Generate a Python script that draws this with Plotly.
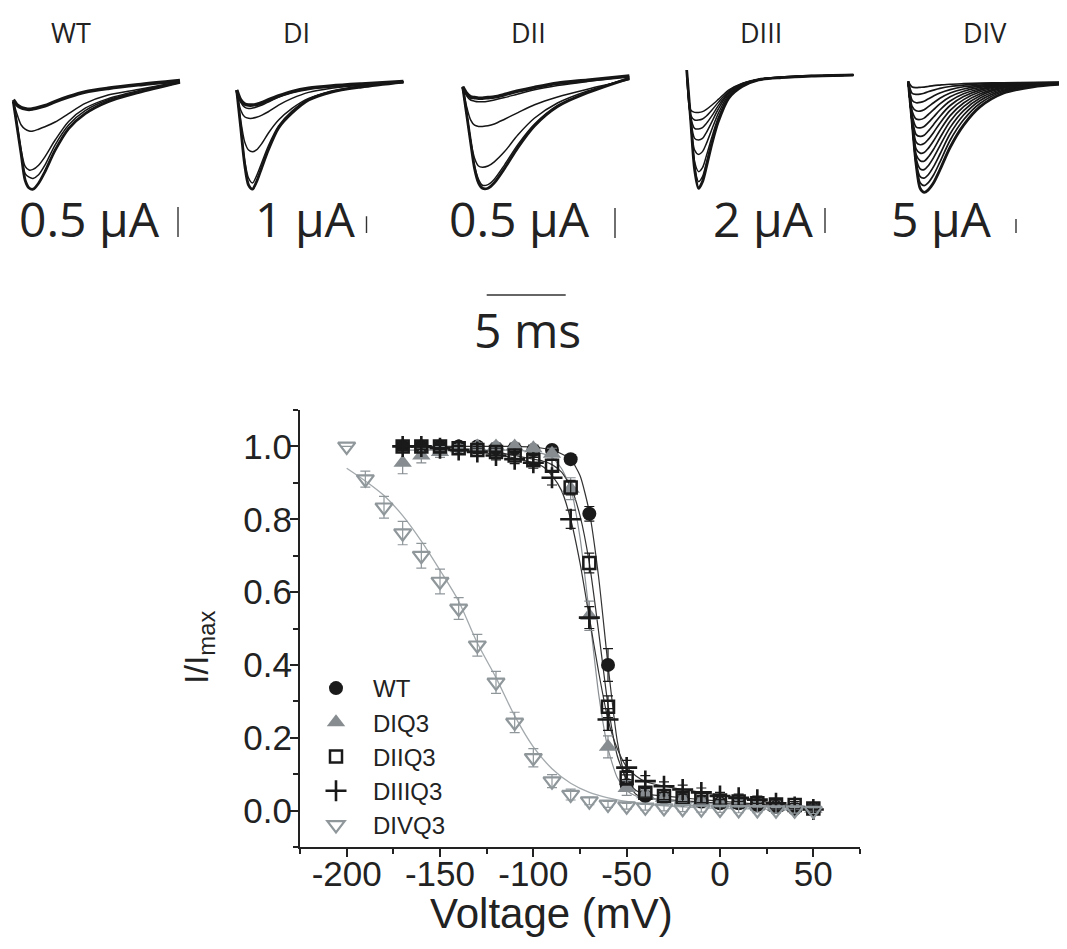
import plotly.graph_objects as go

# page is shown with the browser's 8px body margin; work in window pixels
OFF = 8
W_WIN, H_WIN = 1067, 949
W, H = W_WIN - OFF, H_WIN - OFF

# ---------------- steady-state inactivation (I/Imax vs voltage) ----------------
volt = [-170, -160, -150, -140, -130, -120, -110, -100, -90, -80, -70, -60, -50,
        -40, -30, -20, -10, 0, 10, 20, 30, 40, 50]
volt_divq3 = [-200, -190, -180, -170, -160, -150, -140, -130, -120, -110, -100, -90, -80,
              -70, -60, -50, -40, -30, -20, -10, 0, 10, 20, 30, 40, 50]

wt_i = [1.0, 1.0, 1.0, 1.0, 1.0, 0.995, 0.995, 0.99, 0.99, 0.965, 0.815, 0.40, 0.07,
        0.04, 0.035, 0.03, 0.025, 0.02, 0.02, 0.015, 0.01, 0.005, 0.005]
diq3_i = [0.955, 0.975, 0.985, 0.995, 1.0, 1.0, 1.0, 0.995, 0.98, 0.884, 0.535, 0.175, 0.062,
          0.045, 0.035, 0.03, 0.025, 0.02, 0.02, 0.015, 0.01, 0.01, 0.005]
diiq3_i = [1.0, 1.0, 1.0, 0.995, 0.99, 0.985, 0.975, 0.962, 0.947, 0.887, 0.68, 0.285, 0.09,
           0.049, 0.04, 0.035, 0.032, 0.028, 0.025, 0.02, 0.017, 0.015, 0.006]
diiiq3_i = [1.0, 1.0, 0.995, 0.99, 0.985, 0.975, 0.965, 0.955, 0.914, 0.80, 0.53, 0.25, 0.118,
            0.081, 0.067, 0.058, 0.05, 0.04, 0.035, 0.03, 0.02, 0.01, 0.003]
divq3_i = [1.0, 0.91, 0.833, 0.762, 0.70, 0.629, 0.555, 0.454, 0.352, 0.242, 0.145, 0.081, 0.044,
           0.026, 0.017, 0.012, 0.009, 0.007, 0.005, 0.004, 0.003, 0.002, 0.002, 0.001, 0.001, 0.0]

wt_err = [0.005, 0.005, 0.005, 0.005, 0.005, 0.005, 0.008, 0.008, 0.01, 0.012, 0.02, 0.045, 0.015,
          0.01, 0.008, 0.008, 0.008, 0.008, 0.008, 0.008, 0.008, 0.008, 0.008]
diq3_err = [0.03, 0.02, 0.015, 0.01, 0.01, 0.01, 0.01, 0.01, 0.015, 0.03, 0.04, 0.03, 0.02,
            0.012, 0.01, 0.01, 0.01, 0.01, 0.01, 0.01, 0.01, 0.01, 0.01]
diiq3_err = [0.008, 0.008, 0.008, 0.008, 0.01, 0.01, 0.01, 0.012, 0.015, 0.02, 0.027, 0.03, 0.02,
             0.012, 0.01, 0.01, 0.01, 0.01, 0.01, 0.01, 0.01, 0.01, 0.01]
diiiq3_err = [0.008, 0.008, 0.008, 0.01, 0.01, 0.012, 0.012, 0.015, 0.02, 0.025, 0.03, 0.03, 0.02,
              0.015, 0.012, 0.012, 0.012, 0.01, 0.01, 0.01, 0.01, 0.01, 0.01]
divq3_err = [0.0, 0.022, 0.03, 0.032, 0.034, 0.034, 0.03, 0.03, 0.03, 0.028, 0.025, 0.018, 0.015,
             0.01, 0.008, 0.008, 0.008, 0.008, 0.008, 0.008, 0.008, 0.008, 0.008, 0.008, 0.008, 0.008]

# fitted curves
fit_volt = [-170, -160, -150, -140, -130, -120, -110, -100, -95, -90, -85, -80, -75, -70, -65,
            -60, -55, -50, -45, -40, -30, -20, -10, 0, 10, 20, 30, 40, 50]
wt_fit = [1.0, 1.0, 1.0, 1.0, 1.0, 1.0, 1.0, 0.998, 0.995, 0.99, 0.98, 0.965, 0.92, 0.82, 0.64,
          0.40, 0.19, 0.08, 0.045, 0.035, 0.03, 0.027, 0.024, 0.02, 0.017, 0.014, 0.011, 0.008, 0.005]
diq3_fit = [0.99, 0.99, 0.99, 0.99, 0.99, 0.99, 0.99, 0.985, 0.98, 0.97, 0.94, 0.885, 0.75, 0.54, 0.32,
            0.17, 0.09, 0.055, 0.04, 0.035, 0.028, 0.024, 0.02, 0.017, 0.014, 0.011, 0.009, 0.007, 0.005]
diiq3_fit = [1.0, 1.0, 0.998, 0.995, 0.99, 0.985, 0.975, 0.965, 0.96, 0.95, 0.93, 0.89, 0.81, 0.68, 0.49,
             0.29, 0.15, 0.085, 0.055, 0.045, 0.04, 0.035, 0.03, 0.026, 0.022, 0.018, 0.014, 0.01, 0.006]
diiiq3_fit = [1.0, 0.998, 0.995, 0.99, 0.985, 0.978, 0.968, 0.955, 0.945, 0.92, 0.88, 0.80, 0.68, 0.53, 0.38,
              0.25, 0.17, 0.12, 0.095, 0.08, 0.067, 0.058, 0.05, 0.042, 0.035, 0.028, 0.02, 0.012, 0.005]
divq3_fit = [0.94, 0.905, 0.865, 0.81, 0.74, 0.66, 0.575, 0.46, 0.365, 0.26, 0.175, 0.115, 0.075,
             0.05, 0.035, 0.025, 0.018, 0.013, 0.01, 0.008, 0.006, 0.005, 0.004, 0.003, 0.002, 0.002]

x_tick_vals = [-200, -150, -100, -50, 0, 50]
x_tick_text = ["-200", "-150", "-100", "-50", "0", "50"]
y_tick_vals = [0.0, 0.2, 0.4, 0.6, 0.8, 1.0]
y_tick_text = ["0.0", "0.2", "0.4", "0.6", "0.8", "1.0"]

# ---------------- current traces (time in ms, current in uA) ----------------
t_ms = [0, 0.25, 0.5, 0.75, 1.0, 1.25, 1.6, 2.0, 2.65, 3.5, 4.55, 6.0, 7.9, 10.55]

wt_traces = [
    [-0.36, -0.80, -1.24, -1.67, -1.80, -1.82, -1.72, -1.53, -1.17, -0.81, -0.56, -0.36, -0.21, -0.04],
    [-0.36, -0.78, -1.22, -1.56, -1.62, -1.64, -1.58, -1.42, -1.08, -0.75, -0.51, -0.33, -0.20, -0.04],
    [-0.36, -0.75, -1.17, -1.44, -1.50, -1.49, -1.42, -1.28, -1.00, -0.69, -0.47, -0.31, -0.18, -0.03],
    [-0.36, -0.58, -0.75, -0.82, -0.85, -0.85, -0.82, -0.78, -0.70, -0.56, -0.39, -0.25, -0.16, -0.03],
    [-0.33, -0.42, -0.46, -0.48, -0.49, -0.48, -0.46, -0.43, -0.36, -0.28, -0.20, -0.14, -0.08, -0.01],
]
di_traces = [
    [-0.54, -2.75, -4.97, -6.23, -6.47, -6.05, -5.15, -4.13, -2.81, -1.92, -1.14, -0.66, -0.36, -0.06],
    [-0.54, -2.69, -4.73, -5.81, -6.11, -5.69, -4.85, -3.89, -2.69, -1.80, -1.08, -0.60, -0.30, -0.06],
    [-0.54, -2.34, -3.63, -4.13, -4.23, -4.13, -3.73, -3.13, -2.34, -1.64, -1.04, -0.64, -0.34, -0.04],
    [-0.54, -1.74, -2.14, -2.23, -2.23, -2.17, -2.04, -1.84, -1.44, -1.04, -0.68, -0.44, -0.24, -0.04],
    [-0.54, -1.26, -1.56, -1.65, -1.62, -1.56, -1.44, -1.26, -0.96, -0.69, -0.48, -0.33, -0.20, -0.04],
    [-0.54, -1.14, -1.38, -1.44, -1.44, -1.40, -1.30, -1.14, -0.90, -0.64, -0.44, -0.30, -0.18, -0.04],
]
dii_traces = [
    [-0.18, -0.64, -1.10, -1.54, -1.78, -1.87, -1.87, -1.78, -1.54, -1.19, -0.83, -0.51, -0.28, -0.04],
    [-0.18, -0.63, -1.08, -1.50, -1.72, -1.82, -1.81, -1.72, -1.48, -1.14, -0.80, -0.49, -0.27, -0.03],
    [-0.18, -0.62, -1.07, -1.37, -1.50, -1.52, -1.50, -1.43, -1.26, -0.98, -0.70, -0.45, -0.25, -0.04],
    [-0.18, -0.51, -0.73, -0.82, -0.84, -0.84, -0.83, -0.80, -0.72, -0.61, -0.48, -0.35, -0.22, -0.06],
    [-0.18, -0.33, -0.40, -0.42, -0.43, -0.43, -0.42, -0.40, -0.36, -0.30, -0.23, -0.16, -0.09, -0.01],
    [-0.18, -0.29, -0.35, -0.36, -0.37, -0.37, -0.36, -0.35, -0.31, -0.25, -0.19, -0.12, -0.07, 0.0],
]
diii_traces = [
    [0.4, -3.57, -7.55, -9.07, -8.53, -7.33, -5.47, -3.73, -1.87, -0.93, -0.40, -0.21, -0.08, 0.0],
    [0.4, -3.57, -7.33, -8.53, -8.13, -6.99, -5.28, -3.63, -1.81, -0.91, -0.40, -0.21, -0.08, 0.0],
    [0.4, -3.57, -6.93, -7.73, -7.41, -6.45, -4.93, -3.41, -1.73, -0.85, -0.37, -0.19, -0.08, 0.0],
    [0.4, -3.57, -6.00, -6.35, -6.13, -5.47, -4.32, -3.07, -1.60, -0.80, -0.37, -0.19, -0.08, 0.0],
    [0.4, -3.47, -5.07, -5.20, -5.07, -4.59, -3.73, -2.72, -1.47, -0.75, -0.35, -0.19, -0.08, 0.0],
    [0.4, -3.33, -4.27, -4.32, -4.21, -3.87, -3.25, -2.45, -1.39, -0.72, -0.35, -0.19, -0.08, 0.0],
    [0.4, -3.20, -3.60, -3.60, -3.52, -3.28, -2.80, -2.19, -1.28, -0.69, -0.35, -0.19, -0.08, 0.0],
    [0.4, -2.80, -2.99, -2.99, -2.93, -2.75, -2.40, -1.95, -1.20, -0.67, -0.32, -0.16, -0.05, 0.0],
]
div_traces = [
    [0.1, -14.8, -29.6, -38.0, -39.4, -38.6, -36.0, -31.4, -23.3, -15.4, -8.8, -4.0, -1.7, -0.5],
    [0.1, -14.8, -29.6, -36.0, -37.0, -36.0, -33.2, -28.6, -20.8, -13.5, -7.6, -3.4, -1.4, -0.4],
    [0.1, -14.8, -29.0, -33.8, -34.3, -33.2, -30.2, -25.8, -18.5, -11.8, -6.6, -3.0, -1.2, -0.4],
    [0.1, -14.8, -27.5, -31.0, -31.3, -30.0, -27.0, -22.8, -16.2, -10.2, -5.7, -2.6, -1.1, -0.3],
    [0.1, -14.8, -26.0, -28.1, -28.3, -26.9, -24.0, -20.0, -14.0, -8.8, -4.9, -2.2, -1.0, -0.3],
    [0.1, -14.5, -24.0, -25.4, -25.2, -23.8, -21.0, -17.3, -12.0, -7.5, -4.2, -1.9, -0.9, -0.3],
    [0.1, -14.0, -21.5, -22.4, -22.0, -20.6, -18.0, -14.7, -10.1, -6.3, -3.5, -1.6, -0.8, -0.2],
    [0.1, -13.0, -18.8, -19.4, -19.0, -17.6, -15.2, -12.3, -8.4, -5.2, -2.9, -1.4, -0.7, -0.2],
    [0.1, -12.0, -16.1, -16.4, -15.9, -14.6, -12.5, -10.0, -6.8, -4.2, -2.4, -1.2, -0.6, -0.2],
    [0.1, -10.5, -13.2, -13.4, -12.9, -11.7, -9.9, -7.8, -5.3, -3.3, -1.9, -1.0, -0.5, -0.2],
    [0.1, -8.8, -10.3, -10.4, -9.9, -8.9, -7.4, -5.8, -3.9, -2.5, -1.5, -0.8, -0.4, -0.1],
    [0.1, -6.6, -7.4, -7.3, -6.9, -6.1, -5.0, -3.9, -2.7, -1.7, -1.1, -0.6, -0.3, -0.1],
    [0.1, -4.1, -4.4, -4.3, -4.0, -3.5, -2.9, -2.3, -1.6, -1.1, -0.7, -0.4, -0.2, -0.1],
    [0.1, -1.8, -2.0, -1.9, -1.8, -1.6, -1.3, -1.1, -0.8, -0.6, -0.4, -0.3, -0.2, -0.1],
]

panel_names = ["WT", "DI", "DII", "DIII", "DIV"]
scale_vals = [0.5, 1, 0.5, 2, 5]          # uA
scale_labels = ["0.5 μA", "1 μA", "0.5 μA", "2 μA", "5 μA"]
time_bar_ms = 5
time_bar_label = "5 ms"

# ---------------- layout geometry (window pixels) ----------------
PX_PER_MS = 15.8
panels = [
    dict(x0=13.3, b=80, s=60.0, bar_x=178, bar_b=237, name_cx=71, lab_cx=89),
    dict(x0=236.7, b=81, s=16.7, bar_x=366.5, bar_b=233, name_cx=296, lab_cx=305),
    dict(x0=462.7, b=76, s=60.0, bar_x=615, bar_b=238, name_cx=528, lab_cx=519),
    dict(x0=686.7, b=75, s=12.5, bar_x=825, bar_b=233, name_cx=761, lab_cx=763),
    dict(x0=908.3, b=82, s=2.8, bar_x=1016, bar_b=233, name_cx=985, lab_cx=941),
]
all_traces = [wt_traces, di_traces, dii_traces, diii_traces, div_traces]
PANEL_TOP, PANEL_BOT = 40, 305


def paper_x(p):
    return (p - OFF) / W


def paper_y(p):
    return 1 - (p - OFF) / H


fig = go.Figure()
layout_axes = {}
shapes = []
annotations = []

TRACE_COL = "#161616"
for k, (pc, fam) in enumerate(zip(panels, all_traces)):
    n = k + 2
    xl = max(OFF, pc["x0"] - 12)
    xr = min(W_WIN, pc["x0"] + 190)
    layout_axes[f"xaxis{n}"] = dict(domain=[paper_x(xl), paper_x(xr)],
                                    range=[(xl - pc["x0"]) / PX_PER_MS, (xr - pc["x0"]) / PX_PER_MS],
                                    visible=False, fixedrange=True, anchor=f"y{n}")
    layout_axes[f"yaxis{n}"] = dict(domain=[paper_y(PANEL_BOT), paper_y(PANEL_TOP)],
                                    range=[-(PANEL_BOT - pc["b"]) / pc["s"], (pc["b"] - PANEL_TOP) / pc["s"]],
                                    visible=False, fixedrange=True, anchor=f"x{n}")
    nfam = len(fam)
    for j, tr in enumerate(fam):
        if j == 0:
            w = 2.8
        elif j == nfam - 1 and k < 3:
            w = 3.6
        else:
            w = 1.5 if k < 4 else 1.7
        fig.add_trace(go.Scatter(x=t_ms, y=tr, mode="lines", xaxis=f"x{n}", yaxis=f"y{n}",
                                 line=dict(color=TRACE_COL, width=w, shape="spline", smoothing=0.8),
                                 showlegend=False, hoverinfo="skip"))
    tb = (pc["bar_x"] - pc["x0"]) / PX_PER_MS
    yb = -(pc["bar_b"] - pc["b"]) / pc["s"]
    shapes.append(dict(type="line", xref=f"x{n}", yref=f"y{n}", x0=tb, x1=tb,
                       y0=yb, y1=yb + scale_vals[k], line=dict(color="#333", width=1.4)))
    annotations.append(dict(text=panel_names[k], x=paper_x(pc["name_cx"]), y=paper_y(32),
                            xref="paper", yref="paper", showarrow=False, xanchor="center", yanchor="middle",
                            font=dict(family="Open Sans", size=27, color="#222")))
    annotations.append(dict(text=scale_labels[k], x=paper_x(pc["lab_cx"]), y=paper_y(218),
                            xref="paper", yref="paper", showarrow=False, xanchor="center", yanchor="middle",
                            font=dict(family="Open Sans", size=48, color="#222")))

pc = panels[2]
t_start = (486.7 - pc["x0"]) / PX_PER_MS
y_tb = -(295 - pc["b"]) / pc["s"]
shapes.append(dict(type="line", xref="x4", yref="y4", x0=t_start, x1=t_start + time_bar_ms,
                   y0=y_tb, y1=y_tb, line=dict(color="#333", width=1.5)))
annotations.append(dict(text=time_bar_label, x=paper_x(527), y=paper_y(329), xref="paper", yref="paper",
                        showarrow=False, xanchor="center", yanchor="middle",
                        font=dict(family="Open Sans", size=48, color="#222")))

# ---------------- main I/Imax plot ----------------
BLACK = "#1a1a1a"
GREY = "#868c90"
GREY2 = "#8f979b"

fits = [(wt_fit, "#333333"), (diq3_fit, "#8a8f93"), (diiq3_fit, "#333333"), (diiiq3_fit, "#333333")]
for fy, col in fits:
    fig.add_trace(go.Scatter(x=fit_volt, y=fy, mode="lines",
                             line=dict(color=col, width=1.2, shape="spline", smoothing=0.6),
                             showlegend=False, hoverinfo="skip"))
fig.add_trace(go.Scatter(x=volt_divq3, y=divq3_fit, mode="lines",
                         line=dict(color="#a3a9ac", width=1.3, shape="spline", smoothing=0.8),
                         showlegend=False, hoverinfo="skip"))


def err(arr, col):
    return dict(type="data", array=arr, visible=True, color=col, thickness=1.2, width=5)


fig.add_trace(go.Scatter(x=volt, y=wt_i, mode="markers", name="WT", error_y=err(wt_err, BLACK),
                         marker=dict(symbol="circle", size=14, color=BLACK)))
fig.add_trace(go.Scatter(x=volt, y=diq3_i, mode="markers", name="DIQ3", error_y=err(diq3_err, GREY),
                         marker=dict(symbol="triangle-up", size=16, color=GREY)))
fig.add_trace(go.Scatter(x=volt, y=diiq3_i, mode="markers", name="DIIQ3", error_y=err(diiq3_err, BLACK),
                         marker=dict(symbol="square-open", size=12, color=BLACK, line=dict(width=2.5, color=BLACK))))
fig.add_trace(go.Scatter(x=volt, y=diiiq3_i, mode="markers", name="DIIIQ3", error_y=err(diiiq3_err, BLACK),
                         marker=dict(symbol="cross-thin", size=15, color=BLACK, line=dict(width=2.6, color=BLACK))))
fig.add_trace(go.Scatter(x=volt_divq3, y=divq3_i, mode="markers", name="DIVQ3", error_y=err(divq3_err, GREY2),
                         marker=dict(symbol="triangle-down-open", size=15, color=GREY2,
                                     line=dict(width=2.2, color=GREY2))))

TICKFONT = dict(family="Liberation Sans", size=35, color="#222")
fig.update_layout(
    width=W, height=H,
    margin=dict(l=0, r=0, t=0, b=0),
    paper_bgcolor="white", plot_bgcolor="white",
    xaxis=dict(domain=[paper_x(300), paper_x(860)], range=[-225, 75], tickmode="array",
               tickvals=x_tick_vals, ticktext=x_tick_text, ticklabelstandoff=-13,
               ticks="outside", ticklen=8, tickwidth=2, tickcolor="#222", showline=True, linecolor="#222", linewidth=2,
               showgrid=False, zeroline=False, tickfont=TICKFONT, anchor="y",
               minor=dict(dtick=25, tick0=-200, ticks="outside", ticklen=5, tickwidth=2, tickcolor="#222",
                          showgrid=False)),
    yaxis=dict(domain=[paper_y(847), paper_y(410)], range=[-0.1, 1.1], tickmode="array",
               tickvals=y_tick_vals, ticktext=y_tick_text, ticklabelstandoff=-9,
               ticks="outside", ticklen=8, tickwidth=2, tickcolor="#222", showline=True,
               linecolor="#222", linewidth=2, showgrid=False, zeroline=False, tickfont=TICKFONT, anchor="x",
               minor=dict(dtick=0.1, tick0=0, ticks="outside", ticklen=5, tickwidth=2, tickcolor="#222",
                          showgrid=False)),
    legend=dict(x=paper_x(299), y=paper_y(666), xanchor="left", yanchor="top", itemwidth=64,
                font=dict(family="Liberation Sans", size=24, color="#222"), bgcolor="rgba(0,0,0,0)",
                tracegroupgap=0),
    showlegend=True,
    **layout_axes,
)

annotations.append(dict(text="Voltage (mV)", x=paper_x(551), y=paper_y(913), xref="paper", yref="paper",
                        showarrow=False, xanchor="center", yanchor="middle",
                        font=dict(family="Liberation Sans", size=42, color="#222")))
annotations.append(dict(text="I/I<sub>max</sub>", x=paper_x(198), y=paper_y(648), xref="paper", yref="paper",
                        showarrow=False, xanchor="center", yanchor="middle", textangle=-90,
                        font=dict(family="Liberation Sans", size=34, color="#222")))
fig.update_layout(shapes=shapes, annotations=annotations)

fig.write_html("out.html")
